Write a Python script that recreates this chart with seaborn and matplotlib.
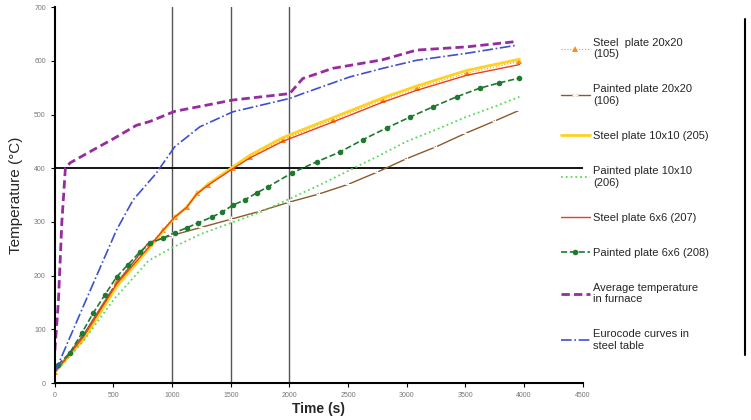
import numpy as np
import pandas as pd
import matplotlib
matplotlib.use("Agg")
import matplotlib.pyplot as plt
import seaborn as sns
from matplotlib.lines import Line2D

# time (s) / temperature (deg C)
t_furnace = [0, 30, 60, 90, 130, 326, 500, 696, 809, 1022, 1235, 1516, 2002, 2113, 2368, 2794, 3083, 3509, 3935]
T_furnace = [60, 150, 300, 400, 410, 434, 455, 480, 487, 506, 515, 527, 539, 567, 586, 602, 620, 626, 636]

t_euro = [0, 241, 526, 667, 862, 1022, 1235, 1516, 2002, 2113, 2513, 2794, 3083, 3509, 3935]
T_euro = [20, 142, 285, 341, 390, 440, 477, 505, 530, 539, 570, 586, 601, 614, 629]

t_p66 = [27, 128, 230, 326, 426, 528, 622, 724, 809, 920, 1022, 1124, 1218, 1337, 1423, 1516, 1618,
         1720, 1814, 2019, 2232, 2428, 2624, 2828, 3024, 3220, 3424, 3620, 3790, 3960]
T_p66 = [34, 56, 93, 130, 164, 198, 220, 244, 260, 270, 280, 289, 298, 309, 318, 331, 341,
         354, 365, 391, 412, 430, 453, 475, 495, 514, 533, 549, 559, 568]

t_p1010 = [0, 250, 500, 800, 1000, 1250, 1500, 1750, 2000, 2250, 2500, 2750, 3000, 3250, 3500, 3750, 3960]
T_p1010 = [20, 80, 155, 228, 252, 278, 298, 318, 343, 368, 395, 422, 450, 472, 495, 515, 533]

t_p2020 = [0, 250, 500, 800, 1000, 1250, 1500, 1750, 2000, 2250, 2500, 2750, 3000, 3250, 3500, 3750, 3960]
T_p2020 = [20, 92, 178, 262, 275, 290, 305, 320, 337, 352, 370, 393, 418, 440, 465, 488, 508]

t_steel = [0, 241, 528, 809, 920, 1022, 1124, 1209, 1303, 1516, 1661, 1942, 2368, 2794, 3083, 3509, 3960]
T_s2020 = [20, 88, 190, 258, 285, 310, 328, 354, 369, 400, 421, 453, 490, 527, 549, 577, 599]
T_s1010 = [20, 80, 180, 252, 282, 308, 328, 352, 370, 402, 424, 457, 494, 531, 553, 582, 603]
T_s66 = [20, 85, 185, 255, 284, 309, 327, 352, 368, 399, 419, 450, 486, 523, 545, 573, 593]

x_ticks = [0, 500, 1000, 1500, 2000, 2500, 3000, 3500, 4000, 4500]
y_ticks = [0, 100, 200, 300, 400, 500, 600, 700]
ref_times = [1000, 1500, 2000]
ref_temp = 400

sns.set_style("white")
plt.rcParams["font.family"] = ["Liberation Sans", "DejaVu Sans"]

fig = plt.figure(figsize=(7.51, 4.20), dpi=100)
ax = fig.add_axes([0.073, 0.088, 0.703, 0.895])

for tx in ref_times:
    ax.axvline(tx, color="#555555", lw=1.0, zorder=1)
ax.axhline(ref_temp, color="black", lw=1.3, zorder=1)

sns.lineplot(x=t_steel, y=T_s2020, ax=ax, color="#FF8C1A", lw=0.8, ls=":", marker="^",
             markersize=4, markeredgewidth=0, label="Steel  plate 20x20\n(105)")
sns.lineplot(x=t_p2020, y=T_p2020, ax=ax, color="#8B5A2B", lw=1.0, marker="+",
             markersize=5, label="Painted plate 20x20\n(106)")
sns.lineplot(x=t_steel, y=T_s1010, ax=ax, color="#FFD21F", lw=2.0, label="Steel plate 10x10 (205)")
sns.lineplot(x=t_p1010, y=T_p1010, ax=ax, color="#55DD55", lw=1.3, ls=":", label="Painted plate 10x10\n(206)")
sns.lineplot(x=t_steel, y=T_s66, ax=ax, color="#E8401C", lw=1.0, label="Steel plate 6x6 (207)")
sns.lineplot(x=t_p66, y=T_p66, ax=ax, color="#1E7A2E", lw=1.2, ls="--", marker="o",
             markersize=4, markeredgewidth=0, label="Painted plate 6x6 (208)")
sns.lineplot(x=t_furnace, y=T_furnace, ax=ax, color="#962C9E", lw=2.0, ls=(0, (3, 1.5)),
             label="Average temperature\nin furnace")
sns.lineplot(x=t_euro, y=T_euro, ax=ax, color="#3F4FD0", lw=1.2, ls="-.",
             label="Eurocode curves in\nsteel table")

ax.set_xlim(0, 4500)
ax.set_ylim(0, 700)
ax.set_xticks(x_ticks)
ax.set_yticks(y_ticks)
ax.tick_params(axis="both", labelsize=5, labelcolor="#777777", color="black", length=3, width=0.8,
               direction="out", left=True, bottom=True)
for side in ["top", "right"]:
    ax.spines[side].set_visible(False)
for side in ["left", "bottom"]:
    ax.spines[side].set_color("black")
    ax.spines[side].set_linewidth(1.5)

ax.set_xlabel("Time (s)", fontsize=10, fontweight="bold", labelpad=2)
ax.set_ylabel("Temperature (°C)", fontsize=11, labelpad=8)

leg = ax.legend(loc="upper left", bbox_to_anchor=(0.95, 0.93), frameon=False, fontsize=8,
                labelspacing=2.25, handlelength=2.6, handletextpad=0.3, borderaxespad=0)
fig.add_artist(Line2D([0.992, 0.992], [0.155, 0.955], color="black", lw=1.5))

fig.savefig("out.png", dpi=100)
